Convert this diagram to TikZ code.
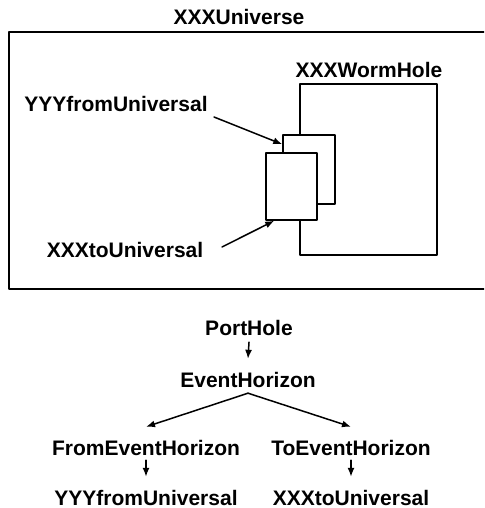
\documentclass[tikz,border=0pt]{standalone}
\usepackage{fontspec}
\setmainfont{Liberation Sans}
\usetikzlibrary{arrows.meta}
\begin{document}
\begin{tikzpicture}[line cap=round,line join=round,>={Latex[length=9pt,width=7pt]},x=1pt,y=-1pt,
  lbl/.style={font=\fontsize{21}{25}\selectfont\bfseries,inner sep=0pt,text height=14pt,text depth=0pt},
  box/.style={draw,fill=white,line width=1.5pt,inner sep=0pt}]
  \useasboundingbox (0,0) rectangle (484,508);
  \clip (0,0) rectangle (484,508);
  % universe frame
  \draw[line width=2pt] (9,32) rectangle (495,289);
  \node[lbl] (uni) at (239,18) {XXXUniverse};
  \node[box,minimum width=137pt,minimum height=171pt] (worm) at (368.5,169.5) {};
  \node[lbl] (wormlbl) at (369,71) {XXXWormHole};
  \node[box,minimum width=52pt,minimum height=69pt] (yyybox) at (309,169.5) {};
  \node[box,minimum width=51pt,minimum height=67pt] (xxxbox) at (291.5,186.5) {};
  \node[lbl] (yyylbl) at (116,105) {YYYfromUniversal};
  \node[lbl] (xxxlbl) at (125,250) {XXXtoUniversal};
  \coordinate (yyyfoot) at (214,117);
  \coordinate (xxxfoot) at (222,247);
  \draw[line width=1.5pt,->] (yyyfoot) -- ([yshift=-10pt]yyybox.north west);
  \draw[line width=1.5pt,->] (xxxfoot) -- ([xshift=9pt]xxxbox.south west);
  % tree below
  \node[lbl] (port) at (249,328) {PortHole};
  \node[lbl] (event) at (248,380) {EventHorizon};
  \node[lbl] (fromev) at (146,448) {FromEventHorizon};
  \node[lbl] (toev) at (351,448) {ToEventHorizon};
  \node[lbl] (yyyleaf) at (146,498) {YYYfromUniversal};
  \node[lbl] (xxxleaf) at (351,498) {XXXtoUniversal};
  \draw[line width=1.5pt,->] ([yshift=-7pt]port.south) -- ([yshift=14pt]event.north);
  \draw[line width=1.5pt,->] ([yshift=-6pt]event.south) -- ([yshift=14pt]fromev.north);
  \draw[line width=1.5pt,->] ([yshift=-6pt]event.south) -- ([yshift=14pt]toev.north);
  \draw[line width=1.5pt,->] ([yshift=-5pt]fromev.south) -- ([yshift=14pt]yyyleaf.north);
  \draw[line width=1.5pt,->] ([yshift=-5pt]toev.south) -- ([yshift=14pt]xxxleaf.north);
\end{tikzpicture}
\end{document}
